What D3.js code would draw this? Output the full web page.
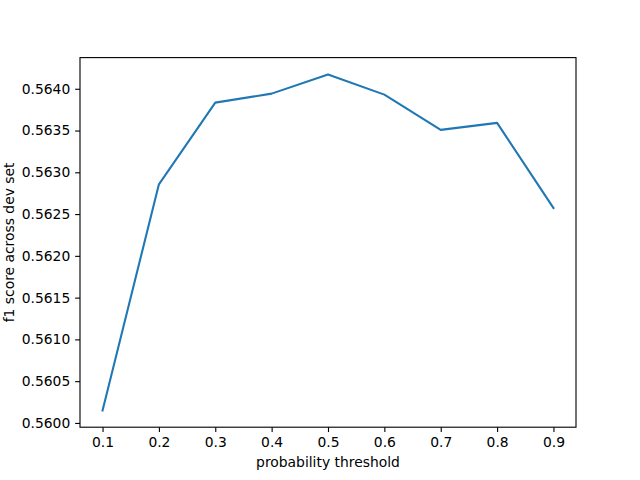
<!DOCTYPE html>
<html><head><meta charset="utf-8">
<script src="https://cdn.jsdelivr.net/npm/d3@7"></script>
<style>body{margin:0;background:#fff}svg{display:block}</style>
</head><body>
<svg id="c" width="640" height="480"></svg>
<script>
const thresholds = [0.1, 0.2, 0.3, 0.4, 0.5, 0.6, 0.7, 0.8, 0.9];
const f1Scores = [0.56015, 0.562856, 0.563834, 0.563942, 0.564172, 0.56393, 0.563508, 0.563592, 0.562573];
const xTicks = [0.1, 0.2, 0.3, 0.4, 0.5, 0.6, 0.7, 0.8, 0.9];
const yTicks = [0.5600, 0.5605, 0.5610, 0.5615, 0.5620, 0.5625, 0.5630, 0.5635, 0.5640];

const svg = d3.select("#c");
const L = 80, R = 576, T = 57.6, B = 427.2;
const xmin = d3.min(thresholds), xmax = d3.max(thresholds);
const ymin = d3.min(f1Scores), ymax = d3.max(f1Scores);
const xm = (xmax - xmin) * 0.05, ym = (ymax - ymin) * 0.05;
const x = d3.scaleLinear().domain([xmin - xm, xmax + xm]).range([L, R]);
const y = d3.scaleLinear().domain([ymin - ym, ymax + ym]).range([B, T]);
const font = "DejaVu Sans, sans-serif";
const fs = 13.89;

const line = d3.line().x((d, i) => x(thresholds[i])).y(d => y(d));
svg.append("path").datum(f1Scores).attr("d", line)
  .attr("fill", "none").attr("stroke", "#1f77b4").attr("stroke-width", 2.08)
  .attr("stroke-linecap", "square").attr("stroke-linejoin", "round");

const xAxis = d3.axisBottom(x).tickValues(xTicks).tickFormat(d3.format(".1f")).tickSize(4.86).tickPadding(4.86);
const gx = svg.append("g").attr("transform", `translate(0,${B})`).call(xAxis);
const yAxis = d3.axisLeft(y).tickValues(yTicks).tickFormat(d3.format(".4f")).tickSize(4.86).tickPadding(4.86);
const gy = svg.append("g").attr("transform", `translate(${L},0)`).call(yAxis);
[gx, gy].forEach(g => {
  g.select(".domain").remove();
  g.selectAll(".tick line").attr("stroke", "#000").attr("stroke-width", 1.11);
  g.selectAll(".tick text").attr("font-family", font).attr("font-size", fs).attr("fill", "#000");
});

svg.append("rect").attr("x", L).attr("y", T).attr("width", R - L).attr("height", B - T)
  .attr("fill", "none").attr("stroke", "#000").attr("stroke-width", 1.11);

svg.append("text").attr("x", (L + R) / 2).attr("y", 467).attr("text-anchor", "middle")
  .attr("font-family", font).attr("font-size", fs).text("probability threshold");
svg.append("text").attr("transform", `translate(14,${(T + B) / 2}) rotate(-90)`)
  .attr("text-anchor", "middle")
  .attr("font-family", font).attr("font-size", fs).text("f1 score across dev set");
</script>
</body></html>
